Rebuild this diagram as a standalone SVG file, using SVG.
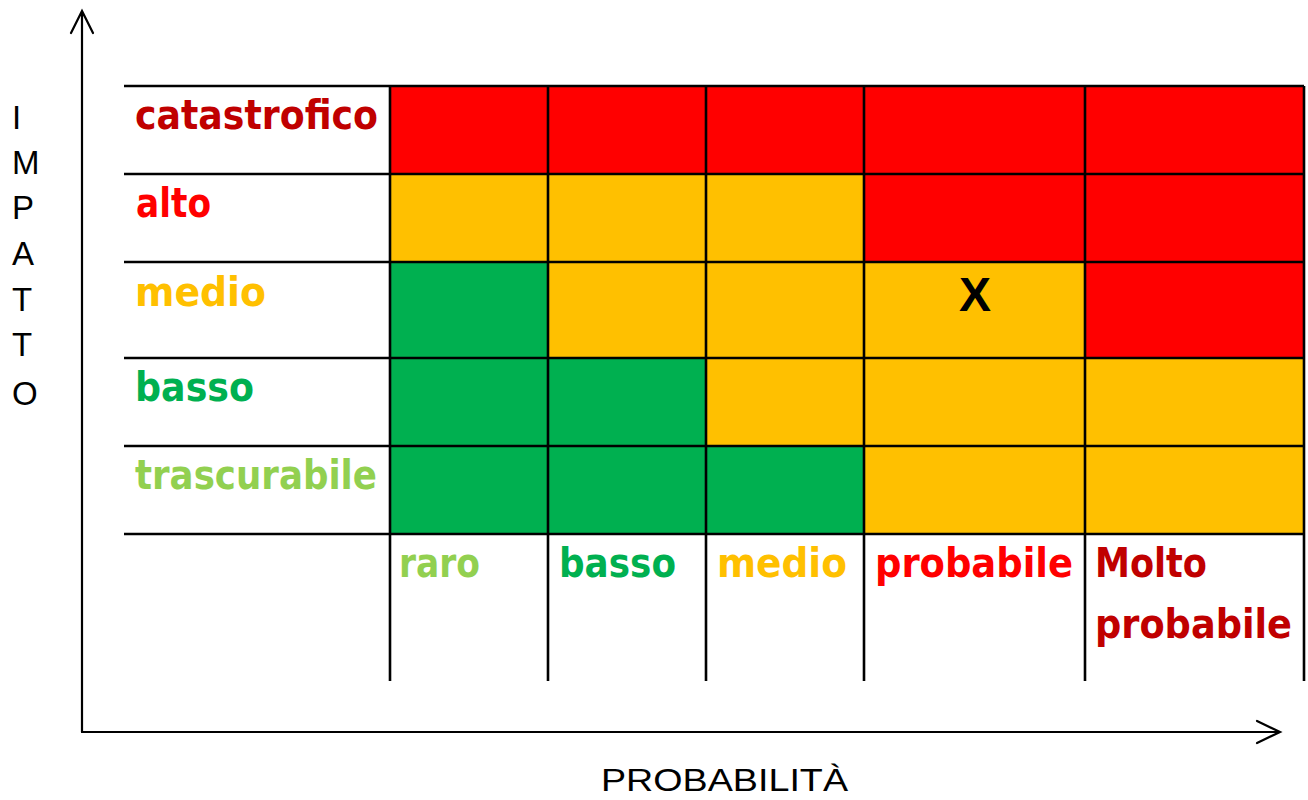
<svg xmlns="http://www.w3.org/2000/svg" width="1308" height="800" viewBox="0 0 1308 800">
<style>
.r{fill:#FF0000}.o{fill:#FFC000}.g{fill:#00B050}
.ln{stroke:#000;stroke-width:2.6;fill:none}
.ax{stroke:#000;stroke-width:2.2;fill:none;stroke-linecap:round;stroke-linejoin:miter}
.lb{font-family:"DejaVu Sans","Liberation Sans",sans-serif;font-weight:bold;font-size:40px}
.th{font-family:"Liberation Sans","DejaVu Sans",sans-serif;font-size:33px;fill:#000}
</style>
<rect width="1308" height="800" fill="#fff"/>
<g id="cells">
<rect class="r" x="390" y="86" width="158" height="88"/>
<rect class="r" x="548" y="86" width="158" height="88"/>
<rect class="r" x="706" y="86" width="158" height="88"/>
<rect class="r" x="864" y="86" width="221" height="88"/>
<rect class="r" x="1085" y="86" width="219" height="88"/>
<rect class="o" x="390" y="174" width="158" height="88"/>
<rect class="o" x="548" y="174" width="158" height="88"/>
<rect class="o" x="706" y="174" width="158" height="88"/>
<rect class="r" x="864" y="174" width="221" height="88"/>
<rect class="r" x="1085" y="174" width="219" height="88"/>
<rect class="g" x="390" y="262" width="158" height="96"/>
<rect class="o" x="548" y="262" width="158" height="96"/>
<rect class="o" x="706" y="262" width="158" height="96"/>
<rect class="o" x="864" y="262" width="221" height="96"/>
<rect class="r" x="1085" y="262" width="219" height="96"/>
<rect class="g" x="390" y="358" width="158" height="88"/>
<rect class="g" x="548" y="358" width="158" height="88"/>
<rect class="o" x="706" y="358" width="158" height="88"/>
<rect class="o" x="864" y="358" width="221" height="88"/>
<rect class="o" x="1085" y="358" width="219" height="88"/>
<rect class="g" x="390" y="446" width="158" height="88"/>
<rect class="g" x="548" y="446" width="158" height="88"/>
<rect class="g" x="706" y="446" width="158" height="88"/>
<rect class="o" x="864" y="446" width="221" height="88"/>
<rect class="o" x="1085" y="446" width="219" height="88"/>
</g>
<g id="grid">
<path class="ln" d="M124 86H1304M124 174H1304M124 262H1304M124 358H1304M124 446H1304M124 534H1304"/>
<path class="ln" d="M390 86V681M548 86V681M706 86V681M864 86V681M1085 86V681M1304 86V681"/>
</g>
<g id="axes">
<path class="ax" d="M82 732V11M71 33L82 11L93 33"/>
<path class="ax" d="M82 732H1280M1257 721L1280 732L1257 743"/>
</g>
<g id="row-labels" class="lb">
<text x="135" y="129" fill="#C00000" textLength="243" lengthAdjust="spacingAndGlyphs">catastrofico</text>
<text x="136" y="217" fill="#FF0000" textLength="75" lengthAdjust="spacingAndGlyphs">alto</text>
<text x="135" y="306" fill="#FFC000" textLength="131" lengthAdjust="spacingAndGlyphs">medio</text>
<text x="135" y="401" fill="#00B050" textLength="119" lengthAdjust="spacingAndGlyphs">basso</text>
<text x="135" y="489" fill="#92D050" textLength="242" lengthAdjust="spacingAndGlyphs">trascurabile</text>
</g>
<g id="col-labels" class="lb">
<text x="399" y="577" fill="#92D050" textLength="81" lengthAdjust="spacingAndGlyphs">raro</text>
<text x="559" y="577" fill="#00B050" textLength="117" lengthAdjust="spacingAndGlyphs">basso</text>
<text x="717" y="577" fill="#FFC000" textLength="130" lengthAdjust="spacingAndGlyphs">medio</text>
<text x="875" y="577" fill="#FF0000" textLength="198" lengthAdjust="spacingAndGlyphs">probabile</text>
<text x="1095" y="577" fill="#C00000" textLength="112" lengthAdjust="spacingAndGlyphs">Molto</text>
<text x="1095" y="638" fill="#C00000" textLength="197" lengthAdjust="spacingAndGlyphs">probabile</text>
</g>
<g id="marker">
<text x="975" y="311" text-anchor="middle" font-family="Liberation Sans, Arial, sans-serif" font-weight="bold" font-size="48" fill="#000">X</text>
</g>
<g id="axis-titles" class="th">
<text x="12" y="129">I</text>
<text x="12" y="174">M</text>
<text x="12" y="219">P</text>
<text x="12" y="265">A</text>
<text x="12" y="311">T</text>
<text x="12" y="356">T</text>
<text x="12" y="405">O</text>
<text x="601" y="791" font-size="32" textLength="247" lengthAdjust="spacingAndGlyphs">PROBABILITÀ</text>
</g>
</svg>
